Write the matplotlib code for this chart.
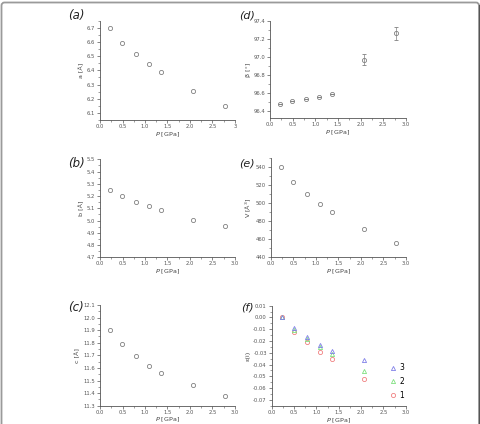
import matplotlib
matplotlib.use('Agg')
import matplotlib.pyplot as plt
from matplotlib.ticker import AutoMinorLocator, MultipleLocator
from matplotlib.patches import FancyBboxPatch
from matplotlib.lines import Line2D
from matplotlib.transforms import IdentityTransform

# pressure points [GPa]
pressure = [0.22, 0.49, 0.80, 1.09, 1.36, 2.07, 2.77]
a_len = [6.700, 6.595, 6.514, 6.444, 6.390, 6.256, 6.147]
b_len = [5.248, 5.200, 5.154, 5.120, 5.087, 5.008, 4.957]
c_len = [11.900, 11.790, 11.697, 11.618, 11.560, 11.465, 11.377]
beta = [96.474, 96.510, 96.535, 96.560, 96.590, 96.970, 97.260]
beta_err = [0, 0, 0, 0, 0, 0.057, 0.070]
volume = [540.4, 523.7, 510.4, 499.0, 490.4, 471.1, 456.3]

# principal strains
p_strain = [0.22, 0.49, 0.80, 1.09, 1.36, 2.07]
eps1 = [0.0, -0.0120, -0.0210, -0.0294, -0.0356, -0.0524]
eps2 = [0.0, -0.0107, -0.0180, -0.0255, -0.0314, -0.0455]
eps3 = [0.0, -0.0093, -0.0170, -0.0237, -0.0286, -0.0362]

W, H = 481, 424
fig = plt.figure(figsize=(W / 100, H / 100), dpi=100)

axcol = '#555555'
mcol = '#808080'
tfs = 3.8


def make_ax(x0, y_top, w, h):
    ax = fig.add_axes([x0 / W, 1 - (y_top + h) / H, w / W, h / H])
    for s in ['top', 'right']:
        ax.spines[s].set_visible(False)
    for s in ['left', 'bottom']:
        ax.spines[s].set_color(axcol)
        ax.spines[s].set_linewidth(0.6)
    ax.tick_params(which='major', direction='out', length=2, width=0.5,
                   colors=axcol, labelsize=tfs, pad=1.5)
    ax.tick_params(axis='x', which='major', pad=1.0)
    ax.tick_params(which='minor', direction='out', length=1.2, width=0.4,
                   colors=axcol)
    ax.xaxis.set_minor_locator(AutoMinorLocator(2))
    ax.yaxis.set_minor_locator(AutoMinorLocator(2))
    ax.set_xlim(0, 3.0)
    ax.xaxis.set_major_locator(MultipleLocator(0.5))
    ax.set_xlabel('$P$ [GPa]', fontsize=4.6, color='#444444', labelpad=0.8)
    return ax


def panel_label(x, y, letter, size=8.5):
    fig.text(x / W, 1 - y / H, '(' + letter + ')', fontsize=size,
             style='italic', ha='center', va='center', color='#222222')


def scatter(ax, x, y):
    ax.plot(x, y, 'o', ms=3.0, mfc='none', mec=mcol, mew=0.6)


# (a)
ax = make_ax(100, 20.7, 135, 99.3)
scatter(ax, pressure, a_len)
ax.set_ylim(6.05, 6.75)
ax.yaxis.set_major_locator(MultipleLocator(0.1))
ax.set_xticks([0, 0.5, 1.0, 1.5, 2.0, 2.5, 3.0])
ax.set_xticklabels(['0.0', '0.5', '1.0', '1.5', '2.0', '2.5', '3'])
ax.set_ylabel('a [Å]', fontsize=4.6, color='#444444', labelpad=2)
panel_label(76, 16, 'a')

# (b)
ax = make_ax(100, 159.3, 135, 98)
scatter(ax, pressure, b_len)
ax.set_ylim(4.7, 5.5)
ax.yaxis.set_major_locator(MultipleLocator(0.1))
ax.set_ylabel('b [Å]', fontsize=4.6, color='#444444', labelpad=2)
panel_label(76, 163, 'b')

# (c)
ax = make_ax(100, 305, 135, 100.7)
scatter(ax, pressure, c_len)
ax.set_ylim(11.3, 12.1)
ax.yaxis.set_major_locator(MultipleLocator(0.1))
ax.set_ylabel('c [Å]', fontsize=4.6, color='#444444', labelpad=2)
panel_label(76, 307, 'c')

# (d)
ax = make_ax(270, 20.7, 136, 97.6)
ax.errorbar(pressure, beta, yerr=beta_err, fmt='o', ms=3.0, mfc='none',
            mec=mcol, mew=0.6, ecolor=mcol, elinewidth=0.5, capsize=1.2,
            capthick=0.5)
ax.set_ylim(96.32, 97.4)
ax.yaxis.set_major_locator(MultipleLocator(0.2))
ax.set_ylabel('β [°]', fontsize=4.6, color='#444444', labelpad=2)
panel_label(247, 15, 'd', 8)

# (e)
ax = make_ax(271, 158.3, 135, 99)
scatter(ax, pressure, volume)
ax.set_ylim(440, 550)
ax.yaxis.set_major_locator(MultipleLocator(20))
ax.set_ylabel('V [Å$^3$]', fontsize=4.6, color='#444444', labelpad=2)
panel_label(247, 164, 'e', 8)

# (f)
ax = make_ax(271.7, 305.7, 134, 100.3)
h1, = ax.plot(p_strain, eps1, 'o', ms=3.0, mfc='none', mec='#f08080', mew=0.6)
h2, = ax.plot(p_strain, eps2, '^', ms=3.0, mfc='none', mec='#80e080', mew=0.6)
h3, = ax.plot(p_strain, eps3, '^', ms=3.0, mfc='none', mec='#8080e8', mew=0.6)
ax.set_ylim(-0.0752, 0.01)
ax.yaxis.set_major_locator(MultipleLocator(0.01))
ax.yaxis.set_major_formatter(matplotlib.ticker.FormatStrFormatter('%.2f'))
ax.set_ylabel('ε(i)', fontsize=4.6, color='#444444', labelpad=2)
ax.legend([h3, h2, h1], ['3', '2', '1'], loc='lower right',
          bbox_to_anchor=(1.03, 0.01), frameon=False, fontsize=5.5,
          labelspacing=0.6, handlelength=0.8, handletextpad=0.5,
          borderpad=0.2)
panel_label(247, 307, 'f', 8)

# outer frame
frame = FancyBboxPatch((1.5, -20), 477.5, 441.5,
                       boxstyle='round,pad=0,rounding_size=3',
                       transform=IdentityTransform(), fill=False,
                       edgecolor='#9a9a9a', linewidth=1.3)
fig.patches.append(frame)
fig.lines.append(Line2D([479.5, 479.5], [-20, 418], color='#555555',
                        linewidth=1.5, transform=IdentityTransform()))

fig.savefig('out.png', dpi=100)
